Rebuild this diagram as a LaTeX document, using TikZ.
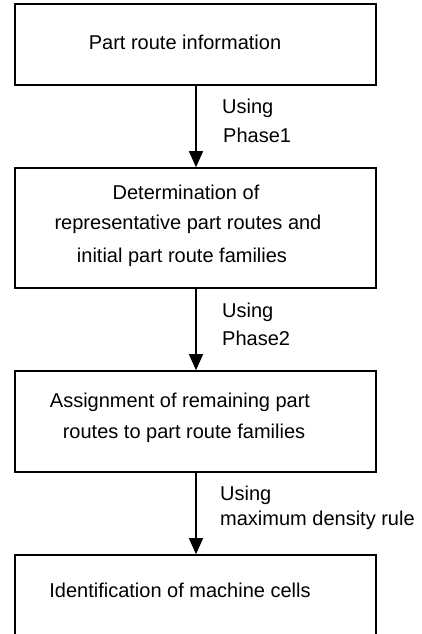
\documentclass[tikz,border=0pt]{standalone}
\usepackage{fontspec}
\setmainfont{Liberation Sans}
\usetikzlibrary{arrows.meta}
\begin{document}
\begin{tikzpicture}[x=1pt,y=-1pt,
  stagebox/.style={draw,line width=1.6pt,minimum width=361pt,inner sep=0pt},
  boxtext/.style={font=\fontsize{20}{32}\selectfont,align=center,inner sep=0pt},
  steptext/.style={font=\fontsize{20}{26}\selectfont,align=left,anchor=west,inner sep=0pt},
  flow/.style={line width=1.3pt,-{Triangle[length=16pt,width=14pt]}}]
\useasboundingbox (0,0) rectangle (421,634);
\clip (0,0) rectangle (421,634);
% stage boxes
\node[stagebox,minimum height=81pt]  (b1) at (195.5,44.5) {};
\node[stagebox,minimum height=120pt] (b2) at (195.5,228) {};
\node[stagebox,minimum height=101pt] (b3) at (195.5,421.5) {};
\node[stagebox,minimum height=100pt] (b4) at (195.5,605) {};
% box texts
\node[boxtext] (t1) at (185,42) {Part route information};
\node[boxtext] (t2a) at (186,192) {Determination of};
\node[boxtext] (t2b) at (188,224) {representative part routes and};
\node[boxtext] (t2c) at (182,257) {initial part route families};
\node[boxtext] (t3a) at (180,402) {Assignment of remaining part};
\node[boxtext] (t3b) at (184,433) {routes to part route families};
\node[boxtext] (t4) at (180,590) {Identification of machine cells};
% connectors
\draw[flow] (b1.south -| 196,0) -- (b2.north -| 196,0);
\draw[flow] (b2.south -| 196,0) -- (b3.north -| 196,0);
\draw[flow] (b3.south -| 196,0) -- (b4.north -| 196,0);
% connector labels
\node[steptext] (u1) at (222,108) {Using};
\node[steptext] (p1) at (223,135) {Phase1};
\node[steptext] (u2) at (222,312) {Using};
\node[steptext] (p2) at (222,338) {Phase2};
\node[steptext] (u3) at (220,495) {Using};
\node[steptext] (p3) at (220,520) {maximum density rule};
\end{tikzpicture}
\end{document}
